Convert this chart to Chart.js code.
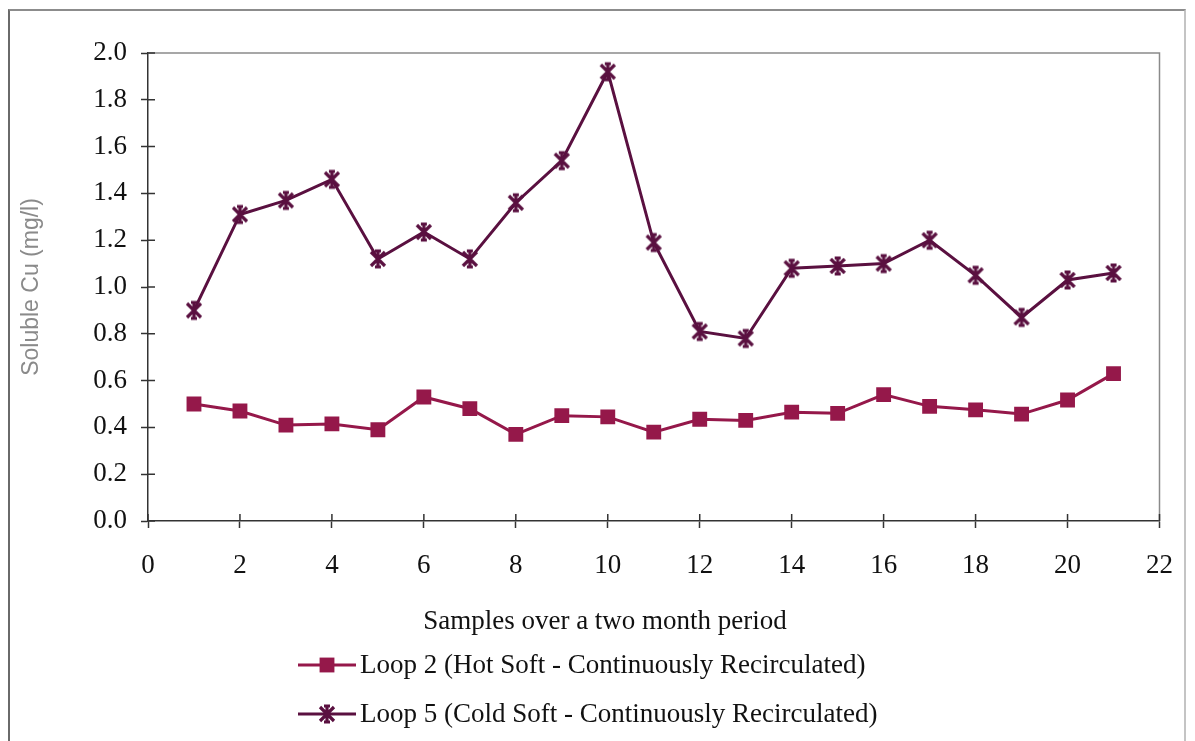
<!DOCTYPE html>
<html>
<head>
<meta charset="utf-8">
<script src="https://cdn.jsdelivr.net/npm/chart.js@4/dist/chart.umd.min.js"></script>
<style>
  body { margin: 0; background: #fff; }
  #wrap { position: relative; width: 1195px; height: 741px; overflow: hidden; }
  #frame { position: absolute; left: 8px; top: 9px; width: 1174px; height: 800px;
           border-top: 2px solid #8c8c8c; border-left: 2px solid #6a6a6a; border-right: 2px solid #c4c4c4; }
  canvas { position: absolute; left: 0; top: 0; }
</style>
</head>
<body>
<div id="wrap">
  <canvas id="myChart" width="1195" height="741"></canvas>
  <div id="frame"></div>
</div>
<script>
// data
var samples = [1, 2, 3, 4, 5, 6, 7, 8, 9, 10, 11, 12, 13, 14, 15, 16, 17, 18, 19, 20, 21];
var loop2 = [0.50, 0.47, 0.41, 0.415, 0.39, 0.53, 0.48, 0.37, 0.45, 0.445, 0.38, 0.435, 0.43, 0.465, 0.46, 0.54, 0.49, 0.475, 0.457, 0.517, 0.63];
var loop5 = [0.90, 1.31, 1.37, 1.46, 1.12, 1.235, 1.12, 1.36, 1.54, 1.92, 1.19, 0.81, 0.78, 1.08, 1.09, 1.10, 1.20, 1.05, 0.87, 1.03, 1.06];
var series_labels = ["Loop 2 (Hot Soft - Continuously Recirculated)", "Loop 5 (Cold Soft - Continuously Recirculated)"];
var x_title = "Samples over a two month period";
var y_title = "Soluble Cu (mg/l)";

var col_loop2 = '#95184a';
var col_loop5 = '#5a1040';
var serif = '"Liberation Serif", "Times New Roman", serif';

function to_points(arr) {
    var pts = [];
    for (var i = 0; i < samples.length; i++) {
        pts.push({x: samples[i], y: arr[i]});
    }
    return pts;
}

// asterisk marker (X + vertical bar with short caps)
function star_marker(color) {
    var c = document.createElement('canvas');
    c.width = 22; c.height = 22;
    var g = c.getContext('2d');
    g.strokeStyle = color;
    g.lineWidth = 3.2;
    g.lineCap = 'butt';
    g.beginPath();
    g.moveTo(4, 4); g.lineTo(18, 18);
    g.moveTo(18, 4); g.lineTo(4, 18);
    g.moveTo(11, 2); g.lineTo(11, 20);
    g.moveTo(8, 3); g.lineTo(14, 3);
    g.moveTo(8, 19); g.lineTo(14, 19);
    g.stroke();
    return c;
}

var star = star_marker(col_loop5);

// inner half of the crossing tick marks, plot box top/right edges, x title and legend
var extras = {
    id: 'extras',
    afterDraw: function(chart) {
        var ctx = chart.ctx;
        var a = chart.chartArea;
        var xs = chart.scales.x, ys = chart.scales.y;
        ctx.save();
        ctx.strokeStyle = '#8a8a8a';
        ctx.lineWidth = 1.5;
        ctx.beginPath();
        ctx.moveTo(a.left, a.top); ctx.lineTo(a.right, a.top); ctx.lineTo(a.right, a.bottom);
        ctx.stroke();

        ctx.strokeStyle = '#333';
        ctx.lineWidth = 1.5;
        ctx.beginPath();
        xs.ticks.forEach(function(t) {
            var px = xs.getPixelForValue(t.value);
            ctx.moveTo(px, a.bottom); ctx.lineTo(px, a.bottom - 7);
        });
        ys.ticks.forEach(function(t) {
            var py = ys.getPixelForValue(t.value);
            ctx.moveTo(a.left, py); ctx.lineTo(a.left + 7, py);
        });
        ctx.stroke();

        ctx.fillStyle = '#111';
        ctx.font = '27px ' + serif;
        ctx.textAlign = 'center';
        ctx.textBaseline = 'middle';
        ctx.fillText(x_title, 605, 622);

        var rows = [665, 714];
        chart.data.datasets.forEach(function(ds, i) {
            var y = rows[i];
            ctx.strokeStyle = ds.borderColor;
            ctx.fillStyle = ds.backgroundColor;
            ctx.lineWidth = 3;
            ctx.beginPath();
            ctx.moveTo(298, y); ctx.lineTo(356, y);
            ctx.stroke();
            Chart.helpers.drawPoint(ctx, {pointStyle: ds.pointStyle, radius: ds.pointRadius, rotation: 0}, 327, y);
            ctx.fillStyle = '#111';
            ctx.textAlign = 'left';
            ctx.fillText(ds.label, 360, y + 1);
        });
        ctx.restore();
    }
};

var ctx = document.getElementById("myChart").getContext("2d");
var myChart = new Chart(ctx, {
    type: 'line',
    data: {
        datasets: [
            {
                label: series_labels[0],
                data: to_points(loop2),
                borderColor: col_loop2,
                backgroundColor: col_loop2,
                borderWidth: 3,
                pointStyle: 'rect',
                pointRadius: 10.5,
                pointBorderWidth: 0,
                tension: 0
            },
            {
                label: series_labels[1],
                data: to_points(loop5),
                borderColor: col_loop5,
                backgroundColor: col_loop5,
                borderWidth: 3,
                pointStyle: star,
                pointRadius: 10,
                tension: 0
            }
        ]
    },
    options: {
        responsive: false,
        animation: false,
        layout: {
            padding: {left: 0, top: 53, right: 35, bottom: 0}
        },
        plugins: {
            legend: {display: false},
            tooltip: {enabled: false}
        },
        scales: {
            x: {
                type: 'linear',
                min: 0,
                max: 22,
                afterFit: function(scale) { scale.height = 220; },
                ticks: {
                    stepSize: 2,
                    color: '#111',
                    padding: 22,
                    font: {family: serif, size: 27}
                },
                grid: {drawOnChartArea: false, tickLength: 7, color: '#333', tickWidth: 1.5},
                border: {color: '#333', width: 1.5}
            },
            y: {
                min: 0,
                max: 2,
                afterFit: function(scale) { scale.width = 148; },
                ticks: {
                    stepSize: 0.2,
                    color: '#111',
                    padding: 14,
                    font: {family: serif, size: 27},
                    callback: function(v) { return v.toFixed(1); }
                },
                grid: {drawOnChartArea: false, tickLength: 7, color: '#333', tickWidth: 1.5},
                border: {color: '#333', width: 1.5},
                title: {
                    display: true,
                    text: y_title,
                    color: '#8a8a8a',
                    font: {family: '"Liberation Sans", Arial, sans-serif', size: 23},
                    padding: {top: 18, bottom: 0}
                }
            }
        }
    },
    plugins: [extras]
});
</script>
</body>
</html>
